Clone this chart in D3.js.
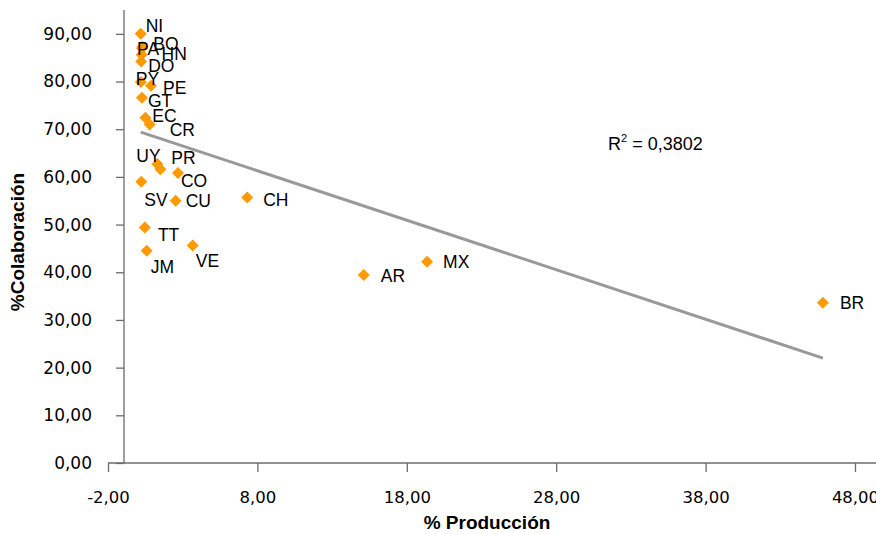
<!DOCTYPE html>
<html><head><meta charset="utf-8">
<script src="https://cdn.jsdelivr.net/npm/d3@7"></script>
<style>body{margin:0;background:#fff}svg{display:block}</style>
</head><body>
<svg id="c" width="876" height="534"></svg>
<script>
// ---- data ----
const countries = ["NI","PA","BO","HN","DO","PY","PE","GT","EC","CR","UY","PR","CO","SV","CU","CH","TT","JM","VE","AR","MX","BR"];
const produccion = [0.19,0.28,0.30,0.25,0.22,0.20,0.88,0.27,0.50,0.79,1.30,1.50,2.68,0.23,2.53,7.32,0.47,0.59,3.67,15.12,19.36,45.85];
const colaboracion = [90.0,87.0,87.3,85.6,84.2,79.9,79.1,76.6,72.4,71.0,62.7,61.6,60.8,59.0,55.0,55.7,49.4,44.5,45.6,39.4,42.2,33.6];
const xTicks = [-2,8,18,28,38,48];
const yTicks = [0,10,20,30,40,50,60,70,80,90];
const r2Text = "0,3802";

// label placement (pixel offsets from the marker), layout only
const labelOffsets = {
  NI:[5,-8], PA:[-5,1], BO:[11,-3], HN:[20,-1], DO:[7,4], PY:[-5,-3], PE:[12,2],
  GT:[6,3], EC:[7,-2], CR:[20,5], UY:[-21,-8], PR:[11,-12], CO:[3,8], SV:[3,18],
  CU:[10,0], CH:[16,2], TT:[13,7], JM:[4,16], VE:[3,15], AR:[17,1], MX:[16,0], BR:[17,0]
};

const svg = d3.select("#c");
const x = d3.scaleLinear().domain([-2,48]).range([108,855]);
const y = d3.scaleLinear().domain([0,95]).range([463,10]);
const fmt = v => d3.format(".2f")(v).replace(".", ",").replace("−","-");
const axisColor = "#6b6b6b";
const yCross = x.invert(124);

// x axis
const xAxis = svg.append("g").attr("transform",`translate(0,${y(0)})`)
  .call(d3.axisBottom(x).tickValues(xTicks).tickFormat(fmt).tickSizeOuter(0).tickSize(9).tickPadding(19));
xAxis.select(".domain").remove();
xAxis.append("line").attr("x1",x(-2)).attr("x2",876).attr("y1",0).attr("y2",0).attr("stroke",axisColor).attr("stroke-width",1.3);
xAxis.selectAll(".tick line").attr("stroke",axisColor).attr("stroke-width",1.3);
xAxis.selectAll(".tick text").attr("fill","#000").style("font-family","DejaVu Sans").style("font-size","16.5px");

// y axis
const yAxis = svg.append("g").attr("transform",`translate(${x(yCross)},0)`)
  .call(d3.axisLeft(y).tickValues(yTicks).tickFormat(fmt).tickSizeOuter(0).tickSize(8).tickPadding(24));
yAxis.select(".domain").remove();
yAxis.append("line").attr("x1",0).attr("x2",0).attr("y1",y(95)).attr("y2",y(0)).attr("stroke",axisColor).attr("stroke-width",1.3);
yAxis.selectAll(".tick line").attr("stroke",axisColor).attr("stroke-width",1.3);
yAxis.selectAll(".tick text").attr("fill","#000").style("font-family","DejaVu Sans").style("font-size","17px");

// trend line (least squares)
const n = produccion.length;
const mx = d3.mean(produccion), my = d3.mean(colaboracion);
let sxy=0, sxx=0;
for (let i=0;i<n;i++){ sxy += (produccion[i]-mx)*(colaboracion[i]-my); sxx += (produccion[i]-mx)**2; }
const slope = sxy/sxx, icpt = my - slope*mx;
const x0 = d3.min(produccion), x1 = d3.max(produccion);
svg.append("line").attr("x1",x(x0)).attr("y1",y(icpt+slope*x0)).attr("x2",x(x1)).attr("y2",y(icpt+slope*x1))
  .attr("stroke","#999999").attr("stroke-width",3);

// points
const pts = countries.map((c,i)=>({c, px:produccion[i], py:colaboracion[i]}));
svg.append("g").selectAll("path").data(pts).join("path")
  .attr("transform",d=>`translate(${x(d.px)},${y(d.py)})`)
  .attr("d","M0,-6L6,0L0,6L-6,0Z").attr("fill","#FF9900");

// labels
svg.append("g").selectAll("text").data(pts).join("text")
  .attr("x",d=>x(d.px)+labelOffsets[d.c][0])
  .attr("y",d=>y(d.py)+labelOffsets[d.c][1])
  .attr("dy","0.36em")
  .style("font-family","Liberation Sans, Arial, sans-serif").style("font-size","17.5px")
  .text(d=>d.c);

// R² annotation
const r2 = svg.append("text").attr("x",608).attr("y",150)
  .style("font-family","Liberation Sans, Arial, sans-serif").style("font-size","18px");
r2.append("tspan").text("R");
r2.append("tspan").attr("dy",-8).style("font-size","11px").text("2");
r2.append("tspan").attr("dy",8).text(" = " + r2Text);

// axis titles
svg.append("text").attr("x",487).attr("y",529).attr("text-anchor","middle")
  .style("font-family","Liberation Sans, Arial, sans-serif").style("font-weight","bold").style("font-size","19px")
  .text("% Producción");
svg.append("text").attr("transform","translate(24,242) rotate(-90)").attr("text-anchor","middle")
  .style("font-family","Liberation Sans, Arial, sans-serif").style("font-weight","bold").style("font-size","19px")
  .text("%Colaboración");
</script>
</body></html>
